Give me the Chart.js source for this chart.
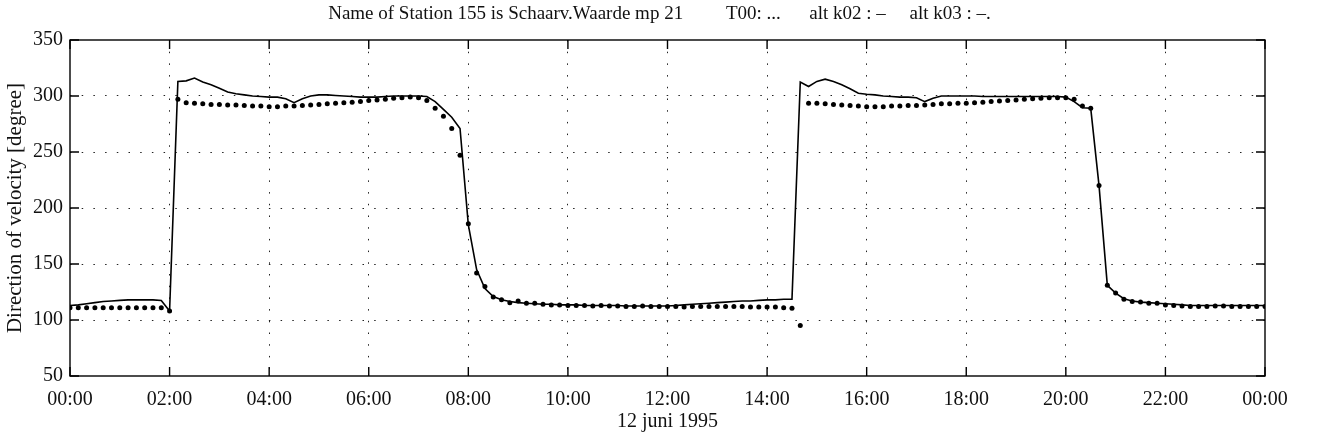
<!DOCTYPE html>
<html>
<head>
<meta charset="utf-8">
<script src="https://cdn.jsdelivr.net/npm/chart.js@4.4.0/dist/chart.umd.min.js"></script>
<style>
  html, body { margin: 0; padding: 0; background: #fff; }
  #wrap { width: 1319px; height: 448px; }
</style>
</head>
<body>
<div id="wrap"><canvas id="c" width="1319" height="448"></canvas></div>
<script>
// Station 155, direction of velocity on 12 June 1995, one sample every 10 minutes (00:00 .. 24:00)
const TITLE = 'Name of Station 155 is Schaarv.Waarde mp 21         T00: ...      alt k02 : \u2013     alt k03 : \u2013.';
const Y_LABEL = 'Direction of velocity [degree]';
const X_LABEL = '12 juni 1995';
const STEP_MIN = 10;

// computed direction (solid line), degrees
const modelDir = [
  113, 113.5, 114.5, 115.5, 116.5, 117, 117.5, 118, 118, 118, 118, 117.5, 108,
  313, 313.5, 316, 312.5, 310, 307, 303.5, 302, 301, 300, 299.5, 299, 299, 297.5, 294, 297.5,
  300, 301, 301, 300.5, 300, 299.5, 299, 299, 299, 299.5, 300, 300, 300, 300, 299.5, 295,
  288, 281, 271, 185, 145, 128, 121, 118, 116.5, 115.5, 115, 114.5, 114, 114, 113.5,
  113.5, 113.5, 113, 113, 113, 113, 113, 112.5, 112.5, 112.5, 112.5, 112.5, 112.5,
  113, 113.5, 114, 114.5, 115, 115.5, 116, 116.5, 117, 117, 117.5, 118, 118, 118.5, 118.5,
  312.5, 308.5, 313, 315, 313, 310, 306.5, 302.5, 301.5, 301, 300, 299.5, 299, 299, 298.5,
  295, 298, 300, 300, 300, 300, 300, 299.5, 299.5, 299.5, 299.5, 299.5, 299.5, 299.5,
  299.5, 299.5, 299.5, 299, 295, 289.5, 289, 220, 131, 124, 119, 117, 116, 115.5, 115,
  114.5, 114, 113.5, 113, 113, 113, 113, 113, 113, 113, 113, 113, 113
];

// measured direction (dots), degrees
const measuredDir = [
  111, 111, 111, 111, 111, 111, 111, 111, 111, 111, 111, 111, 108,
  297, 294, 293.5, 293, 292.5, 292.5, 292, 292, 291.5, 291, 291, 290.5, 290.5, 291, 291, 291.5,
  292, 292.5, 293, 293.5, 294, 294.5, 295, 296, 296.5, 297, 298, 298.5, 299, 298.5, 296, 289,
  282, 271, 247, 186, 142, 130, 120.5, 118, 115.5, 117, 115, 115, 114, 113.5, 113.5,
  113, 113, 113, 112.5, 113, 112.5, 112.5, 112, 112, 112.5, 112, 112, 112,
  112, 111.5, 112, 112, 112, 112, 112, 112, 112, 111.5, 111.5, 111.5, 111.5, 111, 110.5,
  95, 293.5, 293.5, 293, 292.5, 292, 291.5, 291, 290.5, 290.5, 290.5, 291, 291, 291.5, 291.5,
  292, 292.5, 293, 293, 293.5, 293.5, 294, 294.5, 295, 295.5, 296, 296.5, 297, 297.5,
  298, 298.5, 298.5, 298.5, 297, 291, 289, 220, 131, 124, 118.5, 116.5, 116, 115, 115,
  113.5, 113, 112.5, 112, 112, 112, 112.5, 112.5, 112, 112, 112, 112, 112
];

const yTickValues = [50, 100, 150, 200, 250, 300, 350];
const xTickMinutes = [0, 120, 240, 360, 480, 600, 720, 840, 960, 1080, 1200, 1320, 1440];

const SERIF = "'Liberation Serif', 'Times New Roman', serif";

function hhmm(min) {
  const h = Math.floor(min / 60) % 24;
  const m = Math.round(min % 60);
  return String(h).padStart(2, '0') + ':' + String(m).padStart(2, '0');
}

const toPoints = arr => arr.map((v, i) => ({ x: i * STEP_MIN, y: v }));

// box round the plot with inward tick marks on all four sides
const framePlugin = {
  id: 'frame',
  afterDatasetsDraw(chart) {
    const { ctx, chartArea: a, scales: { x, y } } = chart;
    const L = 9;
    ctx.save();
    ctx.strokeStyle = '#000';
    ctx.lineWidth = 1.4;
    ctx.strokeRect(a.left, a.top, a.right - a.left, a.bottom - a.top);
    ctx.beginPath();
    y.ticks.forEach(t => {
      const py = y.getPixelForValue(t.value);
      ctx.moveTo(a.left, py); ctx.lineTo(a.left + L, py);
      ctx.moveTo(a.right, py); ctx.lineTo(a.right - L, py);
    });
    x.ticks.forEach(t => {
      const px = x.getPixelForValue(t.value);
      ctx.moveTo(px, a.bottom); ctx.lineTo(px, a.bottom - L);
      ctx.moveTo(px, a.top); ctx.lineTo(px, a.top + L);
    });
    ctx.stroke();
    ctx.restore();
  }
};

const innerOnly = (lo, hi) => c => (c.tick && c.tick.value > lo && c.tick.value < hi) ? '#222' : 'rgba(0,0,0,0)';

new Chart(document.getElementById('c'), {
  type: 'line',
  data: {
    datasets: [
      {
        label: 'computed',
        data: toPoints(modelDir),
        borderColor: '#000',
        borderWidth: 1.6,
        pointRadius: 0,
        tension: 0,
        fill: false
      },
      {
        label: 'measured',
        data: toPoints(measuredDir),
        showLine: false,
        pointRadius: 2.5,
        pointBackgroundColor: '#000',
        pointBorderWidth: 0
      }
    ]
  },
  options: {
    responsive: false,
    animation: false,
    events: [],
    layout: { padding: 0 },
    plugins: {
      legend: { display: false },
      tooltip: { enabled: false },
      title: {
        display: true,
        text: TITLE,
        color: '#111',
        font: { family: SERIF, size: 19, weight: 'normal' },
        padding: { top: 2.6, bottom: 14.6 }
      }
    },
    scales: {
      x: {
        type: 'linear',
        min: 0,
        max: 1440,
        afterBuildTicks(s) { s.ticks = xTickMinutes.map(v => ({ value: v })); },
        afterFit(s) { s.height = 72; },
        ticks: {
          autoSkip: false,
          maxRotation: 0,
          padding: 12,
          color: '#111',
          font: { family: SERIF, size: 20 },
          callback: v => hhmm(v)
        },
        grid: { color: innerOnly(0, 1440), lineWidth: 1, drawTicks: false },
        border: { display: false, dash: [1.5, 10.2] },
        title: {
          display: true,
          text: X_LABEL,
          color: '#111',
          font: { family: SERIF, size: 20 },
          padding: { top: 0, bottom: 14 }
        }
      },
      y: {
        min: 50,
        max: 350,
        afterBuildTicks(s) { s.ticks = yTickValues.map(v => ({ value: v })); },
        afterFit(s) { s.width = 70; },
        ticks: {
          padding: 7,
          color: '#111',
          font: { family: SERIF, size: 20 },
          callback: v => String(v)
        },
        grid: { color: innerOnly(50, 350), lineWidth: 1, drawTicks: false },
        border: { display: false, dash: [1.5, 10.2] },
        title: {
          display: true,
          text: Y_LABEL,
          color: '#111',
          font: { family: SERIF, size: 21 },
          padding: { top: 2.5, bottom: 0 }
        }
      },
      // empty right-hand margin beside the plot
      yRight: {
        position: 'right',
        min: 50,
        max: 350,
        afterFit(s) { s.width = 54; },
        ticks: { display: false },
        grid: { display: false, drawTicks: false },
        border: { display: false }
      }
    }
  },
  plugins: [framePlugin]
});
</script>
</body>
</html>
